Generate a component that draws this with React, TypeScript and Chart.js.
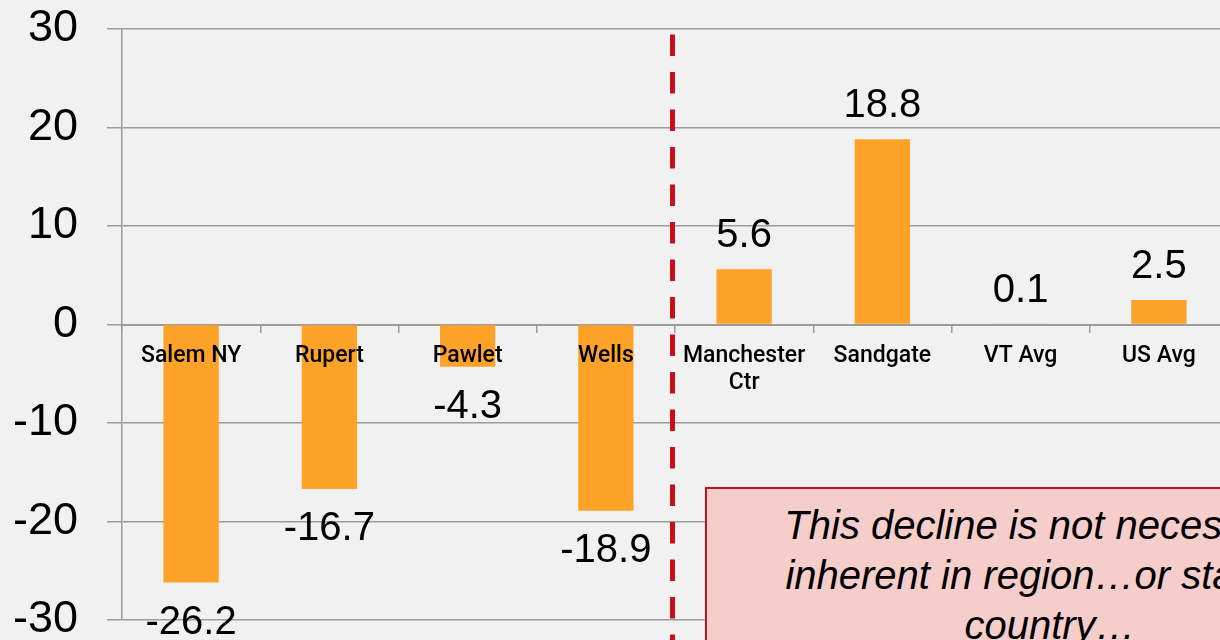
import React, { useEffect, useRef } from 'react';
import { Chart, registerables } from 'chart.js';

Chart.register(...registerables);

// ---- data ----
const categories: (string | string[])[] = [
  'Salem NY',
  'Rupert',
  'Pawlet',
  'Wells',
  ['Manchester', 'Ctr'],
  'Sandgate',
  'VT Avg',
  'US Avg',
];
const values: number[] = [-26.2, -16.7, -4.3, -18.9, 5.6, 18.8, 0.1, 2.5];
const yMin = -30;
const yMax = 30;
const yStep = 10;
const dividerAfterIndex = 3; // dashed divider between Wells and Manchester Ctr
const noteLines: string[] = [
  'This decline is not necessarily',
  'inherent in region…or state or',
  'country…',
];

const BAR_COLOR = '#FFA228';
const GRID_COLOR = '#9c9c9c';
const RED = '#C8101A';
const CANVAS_SHIFT = 27;

const valueLabelPlugin = {
  id: 'valueLabels',
  afterDatasetsDraw(chart: any) {
    const ctx = chart.ctx;
    const meta = chart.getDatasetMeta(0);
    ctx.save();
    ctx.font = '40px "Liberation Sans", Arial, sans-serif';
    ctx.fillStyle = '#000';
    ctx.textAlign = 'center';
    ctx.textBaseline = 'alphabetic';
    meta.data.forEach((bar: any, i: number) => {
      const v = values[i];
      const { x, y } = bar.getProps(['x', 'y'], true);
      const txt = v.toFixed(1);
      if (v >= 0) ctx.fillText(txt, x, y - 22);
      else ctx.fillText(txt, x, y + 51);
    });
    ctx.restore();
  },
};

const dividerPlugin = {
  id: 'divider',
  afterDraw(chart: any) {
    const ctx = chart.ctx;
    const xs = chart.scales.x;
    const x =
      (xs.getPixelForValue(dividerAfterIndex) + xs.getPixelForValue(dividerAfterIndex + 1)) / 2 - 2.5;
    ctx.save();
    ctx.strokeStyle = RED;
    ctx.lineWidth = 5;
    ctx.setLineDash([21.5, 16]);
    ctx.beginPath();
    ctx.moveTo(x, chart.chartArea.top + 5.5);
    ctx.lineTo(x, chart.height);
    ctx.stroke();
    ctx.restore();
  },
};

export default function App() {
  const ref = useRef<HTMLCanvasElement>(null);

  useEffect(() => {
    if (!ref.current) return;
    const chart = new Chart(ref.current, {
      type: 'bar',
      data: {
        labels: categories,
        datasets: [
          {
            data: values,
            backgroundColor: BAR_COLOR,
            borderWidth: 0,
            categoryPercentage: 0.8,
            barPercentage: 0.5,
          },
        ],
      },
      options: {
        responsive: false,
        animation: false,
        layout: { padding: { top: 1, right: 12, bottom: 63, left: 0 } },
        plugins: {
          legend: { display: false },
          tooltip: { enabled: false },
          title: { display: false },
        },
        scales: {
          x: {
            type: 'category',
            position: { y: 0 } as any,
            offset: true,
            grid: {
              display: true,
              drawOnChartArea: false,
              drawTicks: true,
              tickLength: 7,
              color: GRID_COLOR,
              lineWidth: 1.5,
              offset: true,
            },
            border: { display: true, color: GRID_COLOR, width: 2 },
            ticks: {
              z: 1,
              autoSkip: false,
              maxRotation: 0,
              minRotation: 0,
              padding: 12,
              color: '#000',
              font: { family: 'Roboto, "Liberation Sans", sans-serif', size: 23, weight: '500', lineHeight: 1.15 },
            },
          },
          y: {
            min: yMin,
            max: yMax,
            ticks: {
              stepSize: yStep,
              padding: 29,
              color: '#000',
              font: { family: '"Liberation Sans", Arial, sans-serif', size: 45 },
            },
            grid: { color: GRID_COLOR, lineWidth: 1.5, tickLength: 15 },
            border: { color: GRID_COLOR, width: 1.5 },
            afterFit: (s: any) => {
              s.width = 122;
            },
          },
        },
      },
      plugins: [valueLabelPlugin, dividerPlugin],
    });
    return () => chart.destroy();
  }, []);

  return (
    <div
      style={{
        position: 'fixed',
        left: 0,
        top: 0,
        width: 1220,
        height: 640,
        overflow: 'hidden',
        background: '#f1f1f1',
      }}
    >
      <canvas
        ref={ref}
        width={1240}
        height={710}
        style={{ position: 'absolute', left: 0, top: -CANVAS_SHIFT, width: 1240, height: 710 }}
      />
      <div
        style={{
          position: 'absolute',
          left: 705,
          top: 487,
          width: 690,
          height: 220,
          boxSizing: 'border-box',
          background: '#F5CDCB',
          border: `2px solid ${RED}`,
          paddingTop: 11,
          textAlign: 'center',
          fontFamily: '"Liberation Sans", Arial, sans-serif',
          fontStyle: 'italic',
          fontSize: 40,
          lineHeight: '50px',
          color: '#000',
        }}
      >
        {noteLines.map((l, i) => (
          <div key={i}>{l}</div>
        ))}
      </div>
    </div>
  );
}
